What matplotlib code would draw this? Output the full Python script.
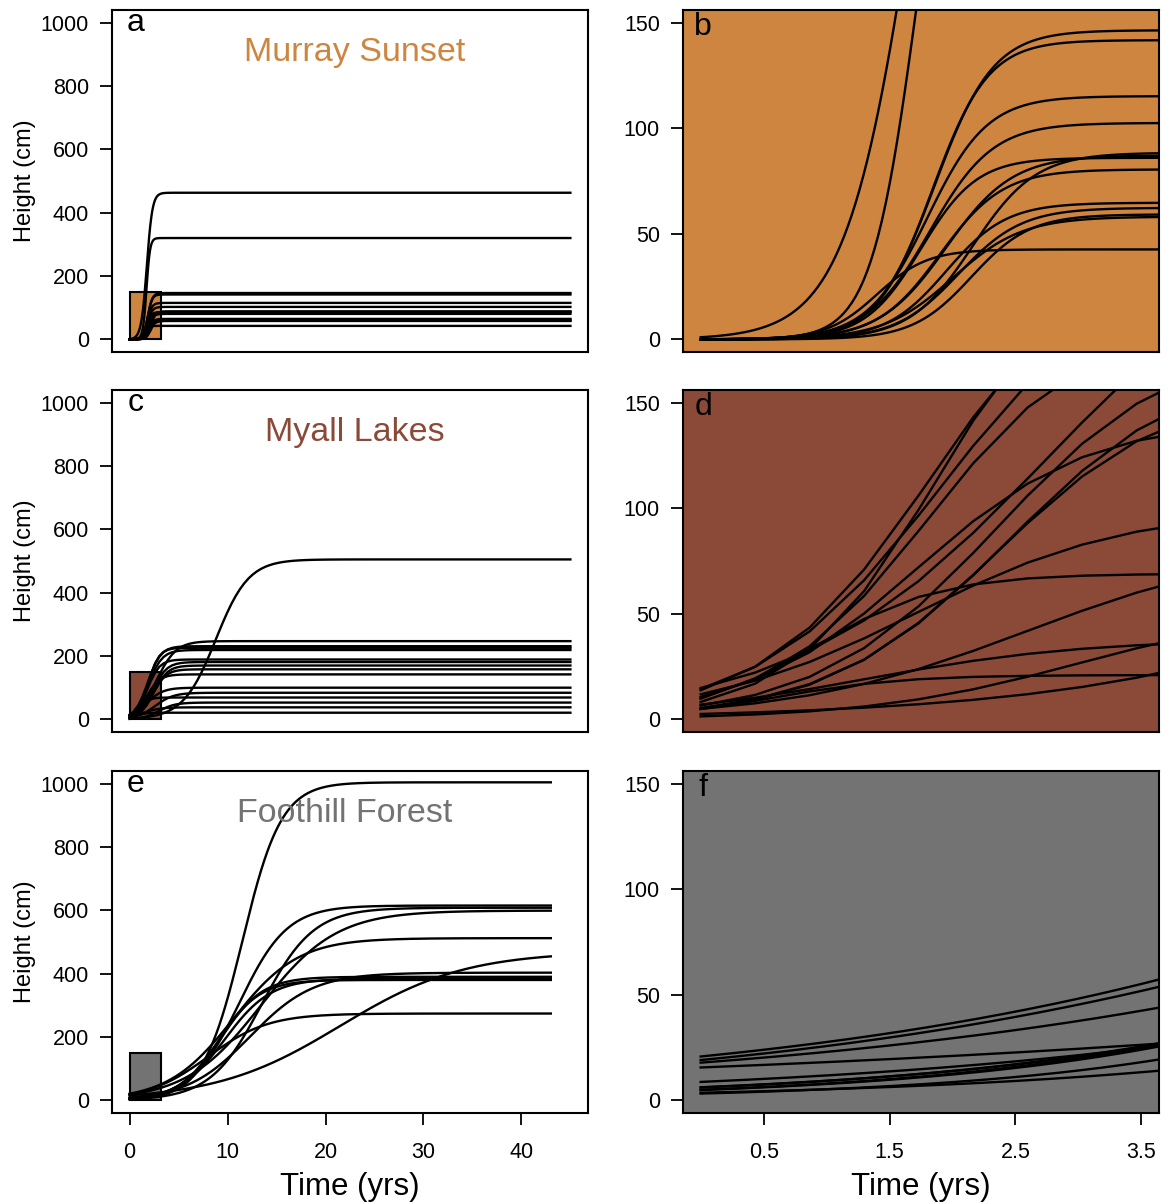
import numpy as np
import matplotlib
matplotlib.use('Agg')
import matplotlib.pyplot as plt
from matplotlib.patches import Rectangle

plt.rcParams['font.family'] = ['Liberation Sans', 'DejaVu Sans']

# ---- data: logistic height curves, one entry per plant (asymptote cm, rate /yr, mid-point yr)
ms_asym = [463, 320, 146.4, 141.7, 115.2, 102.5, 88.4, 87.1, 86.0, 80.5, 64.7, 62.3, 59.2, 58.1, 42.6]
ms_rate = [3.5, 5.5, 4.3, 4.5, 4.2, 4.0, 4.0, 3.8, 4.5, 4.0, 4.2, 4.0, 4.3, 3.6, 5.0]
ms_mid = [1.75, 1.72, 1.86, 1.84, 1.80, 1.82, 2.16, 1.95, 1.75, 1.90, 1.95, 2.05, 2.15, 2.00, 1.40]

ml_asym = [231, 226, 219, 189, 247, 170, 158, 181, 142, 100, 84, 69, 53, 38, 505, 21]
ml_rate = [1.5, 1.75, 1.4, 1.6, 1.0, 1.4, 1.45, 1.4, 1.47, 1.18, 1.065, 2.0, 1.2, 1.15, 0.6, 2.0]
ml_mid = [1.84, 1.87, 1.9, 1.8, 2.75, 2.45, 2.35, 2.35, 1.71, 1.7, 2.6, 0.9, 3.0, 1.3, 8.8, 0.6]

ff_asym = [1004, 615, 608, 599, 512, 470, 403, 390, 384, 380, 274]
ff_rate = [0.50, 0.41, 0.38, 0.26, 0.30, 0.157, 0.31, 0.47, 0.426, 0.475, 0.325]
ff_mid = [11.5, 11.2, 13.5, 13.4, 10.55, 21.5, 12.3, 9.3, 9.7, 9.1, 7.98]

# time grids (years) used by each site's model output
ms_time = np.linspace(0, 45, 1500)
ml_time = np.linspace(0, 45, 105)
ff_time = np.linspace(0, 43, 1500)

site_names = ['Murray Sunset', 'Myall Lakes', 'Foothill Forest']
site_colors = ['#CD853F', '#8A4A37', '#737373']
panel_letters = [('a', 'b'), ('c', 'd'), ('e', 'f')]
name_x = [23, 23, 22]

left_yticks = [0, 200, 400, 600, 800, 1000]
right_yticks = [0, 50, 100, 150]
left_xticks = [0, 10, 20, 30, 40]
right_xticks = [0.5, 1.5, 2.5, 3.5]
zoom_box = (3.2, 150)


def logistic(t, asym, rate, mid):
    return asym / (1 + np.exp(-rate * (t - mid)))


def style_axes(ax):
    for sp in ax.spines.values():
        sp.set_linewidth(1.5)
    ax.tick_params(direction='out', length=8.6, width=1.3, labelsize=15.5, pad=8)


sites = [
    (ms_time, ms_asym, ms_rate, ms_mid),
    (ml_time, ml_asym, ml_rate, ml_mid),
    (ff_time, ff_asym, ff_rate, ff_mid),
]

fig = plt.figure(figsize=(11.73, 12.04), dpi=100)
bottoms = [0.7076, 0.392, 0.0756]
h = 0.2841

for i, (time, asym, rate, mid) in enumerate(sites):
    col = site_colors[i]
    axL = fig.add_axes([0.0955, bottoms[i], 0.4058, h])
    axR = fig.add_axes([0.5823, bottoms[i], 0.4058, h])

    # left: whole time span, with box marking the zoomed region
    axL.add_patch(Rectangle((0, 0), zoom_box[0], zoom_box[1], facecolor=col,
                            edgecolor='black', lw=1.5, zorder=1))
    for a, r, m in zip(asym, rate, mid):
        axL.plot(time, logistic(time, a, r, m), color='black', lw=1.7, zorder=2)
    axL.set_xlim(-1.8, 46.8)
    axL.set_ylim(-40, 1040)
    axL.set_yticks(left_yticks)
    axL.text(name_x[i], 905, site_names[i], color=col, fontsize=24.5,
             ha='center', va='center')
    axL.text(0.6, 1000, panel_letters[i][0], fontsize=23, ha='center', va='center')
    style_axes(axL)

    # right: first few years
    axR.set_facecolor(col)
    for a, r, m in zip(asym, rate, mid):
        axR.plot(time, logistic(time, a, r, m), color='black', lw=1.7)
    axR.set_xlim(-0.14, 3.64)
    axR.set_ylim(-6, 156)
    axR.set_yticks(right_yticks)
    axR.text(0.02, 148, panel_letters[i][1], fontsize=23, ha='center', va='center')
    style_axes(axR)

    if i < 2:
        axL.set_xticks([])
        axR.set_xticks([])
    else:
        axL.set_xticks(left_xticks)
        axR.set_xticks(right_xticks)
        axR.set_xticklabels(['0.5', '1.5', '2.5', '3.5'])
        axL.tick_params(axis='x', pad=12)
        axR.tick_params(axis='x', pad=12)

    # y axis label
    yc = bottoms[i] + h / 2
    fig.text(25 / 1173, yc, 'Height (cm)', rotation=90, fontsize=17,
             ha='center', va='center')

fig.text(350 / 1173, 1 - 1187 / 1204, 'Time (yrs)', fontsize=22.5, ha='center', va='center')
fig.text(921 / 1173, 1 - 1187 / 1204, 'Time (yrs)', fontsize=22.5, ha='center', va='center')

fig.savefig('out.png', dpi=100)
plt.close(fig)
